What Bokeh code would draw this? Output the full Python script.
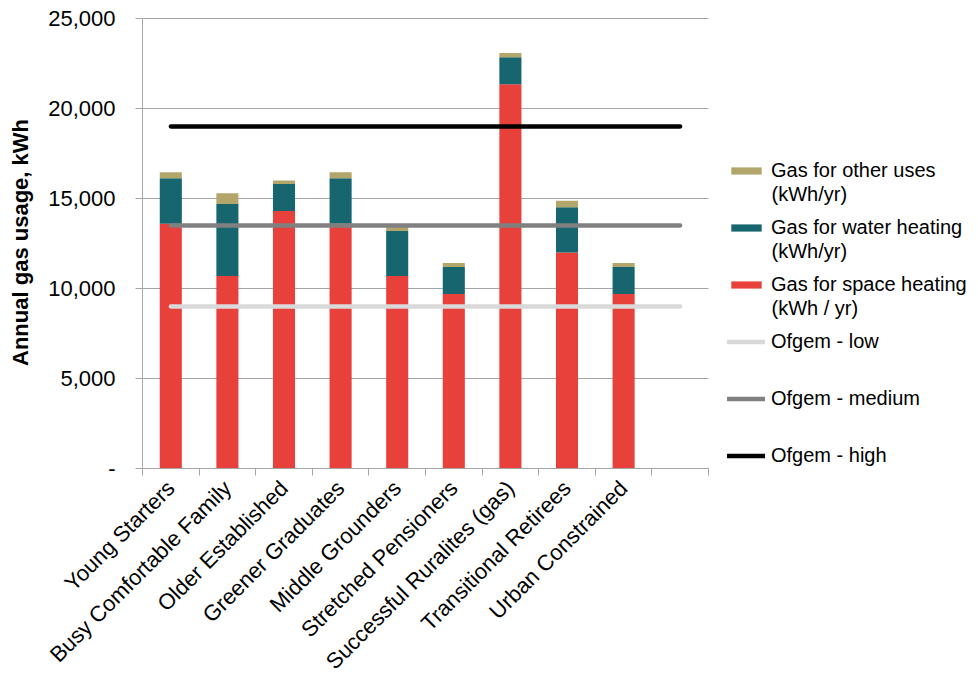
from bokeh.plotting import figure
from bokeh.models import (ColumnDataSource, FixedTicker, Legend, LegendItem, Range1d, Label)
from bokeh.embed import file_html
from bokeh.resources import INLINE

categories = ["Young Starters", "Busy Comfortable Family", "Older Established",
              "Greener Graduates", "Middle Grounders", "Stretched Pensioners",
              "Successful Ruralites (gas)", "Transitional Retirees", "Urban Constrained"]
space_heating = [13600, 10700, 14300, 13600, 10700, 9700, 21350, 12000, 9700]
water_heating = [2530, 4000, 1500, 2530, 2500, 1500, 1500, 2520, 1500]
other_uses = [330, 590, 200, 330, 220, 220, 240, 350, 220]
ofgem_low = 9000
ofgem_medium = 13500
ofgem_high = 19000
y_ticks = [0, 5000, 10000, 15000, 20000, 25000]
y_tick_labels = ["-", "5,000", "10,000", "15,000", "20,000", "25,000"]
series_labels = ["Gas for space heating", "Gas for water heating", "Gas for other uses"]
series_units = ["(kWh / yr)", "(kWh/yr)", "(kWh/yr)"]
ofgem_labels = ["Ofgem - low", "Ofgem - medium", "Ofgem - high"]

RED, TEAL, TAN = "#E8403A", "#17656F", "#B3A66B"
FONT = "Liberation Sans"
GRID = "#A6A6A6"

W, H = 978, 686
LEFT, TOP, BOTTOM = 142, 16, 218
SLOT_PX = 56.6            # width of one category slot in pixels
n_slots = len(categories) + 1
x_centers = [i + 0.5 for i in range(len(categories))]
y_max = y_ticks[-1]

frame_w = W - LEFT
frame_h = H - TOP - BOTTOM
x_end = frame_w / SLOT_PX                      # plot area continues under the legend
y_end = y_max * frame_h / (frame_h - 2)        # 2px headroom so the top grid line is not clipped

src = ColumnDataSource(dict(x=x_centers, space=space_heating, water=water_heating, other=other_uses))

p = figure(width=W, height=H, x_range=Range1d(0, x_end), y_range=Range1d(0, y_end),
           output_backend="svg", toolbar_location=None,
           min_border_left=LEFT, min_border_right=0, min_border_top=TOP, min_border_bottom=BOTTOM)
p.outline_line_color = None
p.background_fill_color = "white"
p.xgrid.visible = False
p.ygrid.visible = False

# horizontal grid lines limited to the category area
p.segment(x0=[0] * len(y_ticks), x1=[n_slots] * len(y_ticks), y0=y_ticks, y1=y_ticks,
          line_color=GRID, line_width=1)

bars = p.vbar_stack(["space", "water", "other"], x="x", width=0.39, source=src,
                    color=[RED, TEAL, TAN], line_color=None)

line_x = [x_centers[0], n_slots - 0.5]
l_low = p.line(line_x, [ofgem_low, ofgem_low], line_color="#D9D9D9", line_width=4.3, line_cap="round")
l_med = p.line(line_x, [ofgem_medium, ofgem_medium], line_color="#808080", line_width=4.3, line_cap="round")
l_high = p.line(line_x, [ofgem_high, ofgem_high], line_color="#000000", line_width=4.3, line_cap="round")

yax = p.yaxis[0]
yax.bounds = (0, y_max)
yax.ticker = FixedTicker(ticks=y_ticks)
yax.major_label_overrides = {t: l for t, l in zip(y_ticks, y_tick_labels)}
yax.axis_line_color = GRID
yax.major_tick_line_color = GRID
yax.major_tick_out = 7
yax.major_tick_in = 0
yax.minor_tick_line_color = None
yax.major_label_standoff = 20
yax.major_label_text_font = FONT
yax.major_label_text_font_size = "22px"
yax.major_label_text_color = "black"
yax.axis_label = "Annual gas usage, kWh"
yax.axis_label_text_font = FONT
yax.axis_label_text_font_size = "22px"
yax.axis_label_text_font_style = "bold"
yax.axis_label_text_color = "black"
yax.axis_label_standoff = 12

xax = p.xaxis[0]
xax.bounds = (0, n_slots)
xax.ticker = FixedTicker(ticks=x_centers, minor_ticks=list(range(n_slots + 1)))
xax.major_label_overrides = {x: c for x, c in zip(x_centers, categories)}
xax.axis_line_color = GRID
xax.major_tick_line_color = None
xax.major_tick_out = 0
xax.major_tick_in = 0
xax.minor_tick_line_color = GRID
xax.minor_tick_out = 7
xax.minor_tick_in = 0
xax.major_label_orientation = 0.785398
xax.major_label_standoff = 9
xax.major_label_text_font = FONT
xax.major_label_text_font_size = "22px"
xax.major_label_text_color = "black"

# legend, right of the category area
LEG_X, ROW_H, GAP = n_slots * SLOT_PX + 19, 23, 34
items = [
    LegendItem(label=series_labels[2], renderers=[bars[2]]),
    LegendItem(label=series_labels[1], renderers=[bars[1]]),
    LegendItem(label=series_labels[0], renderers=[bars[0]]),
    LegendItem(label=ofgem_labels[0], renderers=[l_low]),
    LegendItem(label=ofgem_labels[1], renderers=[l_med]),
    LegendItem(label=ofgem_labels[2], renderers=[l_high]),
]
LEG_BOTTOM = 1.5
legend = Legend(items=items, location=(LEG_X, LEG_BOTTOM), border_line_color=None, background_fill_alpha=0,
                glyph_width=38, glyph_height=9, label_standoff=6, spacing=GAP, padding=0, margin=0,
                label_text_font=FONT, label_text_font_size="20px", label_text_color="black",
                label_height=ROW_H)
p.add_layout(legend, "center")

# second lines of the three series labels
legend_top = LEG_BOTTOM + 6 * ROW_H + 5 * GAP
for k, unit in enumerate([series_units[2], series_units[1], series_units[0]]):
    row_center = legend_top - k * (ROW_H + GAP) - ROW_H / 2
    p.add_layout(Label(x=LEG_X + 38 + 6, y=row_center - ROW_H, x_units="screen", y_units="screen",
                       text=unit, text_font=FONT, text_font_size="20px", text_color="black",
                       text_baseline="middle", text_align="left"))

open("out.html", "w").write(file_html(p, INLINE))
